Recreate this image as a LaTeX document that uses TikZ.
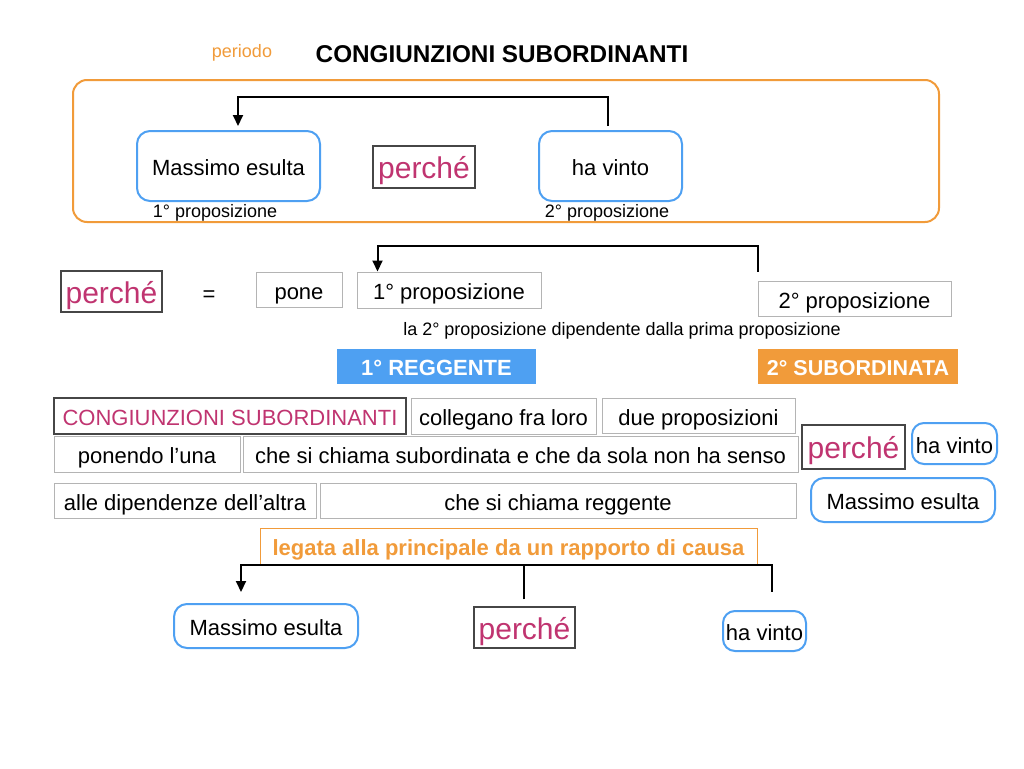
\documentclass[tikz,border=0pt]{standalone}
\usepackage{fontspec}
\setmainfont{Liberation Sans}
\usetikzlibrary{arrows.meta}
\definecolor{orng}{RGB}{241,155,58}
\definecolor{blu}{RGB}{78,160,242}
\definecolor{mag}{RGB}{192,52,112}
\definecolor{gline}{RGB}{180,180,180}
\definecolor{dline}{RGB}{70,70,70}
\newcommand{\fsz}[1]{\fontsize{#1}{#1}\selectfont}
\begin{document}
\begin{tikzpicture}[x=1pt,y=-1pt,
  t22/.style={font=\fsz{22}, text height=19pt, text depth=0pt},
  t30/.style={font=\fsz{30}, text height=23.5pt, text depth=0pt},
  tb/.style={font=\bfseries\fsz{22}, text height=18.5pt, text depth=0pt},
  gbox/.style={draw=gline, line width=1pt, inner sep=0pt, t22},
  dbox/.style={draw=dline, line width=1.1pt, inner sep=0pt, text=mag, t30},
  rbox/.style={draw=blu, line width=2pt, rounded corners=13pt, inner sep=0pt, t22},
  arr/.style={line width=2pt, -{Triangle[length=11pt,width=10pt]}},
  ln/.style={line width=2pt},
  lab/.style={inner sep=0pt, font=\fsz{18}, text height=12.9pt, text depth=0pt}
]
\useasboundingbox (0,0) rectangle (1024,768);
\fill[white] (0,0) rectangle (1024,768);

% header
\node[lab, text=orng] (per) at (242,51) {periodo};
\node[inner sep=0pt, font=\bfseries\fsz{24.3}] (title) at (502,54) {CONGIUNZIONI SUBORDINANTI};

% frame
\node[draw=orng, line width=2pt, rounded corners=14pt, minimum width=866pt, minimum height=142pt] (frame) at (506,151) {};
\node[rbox, minimum width=183pt, minimum height=70pt] (m1) at (228.5,166) {Massimo esulta};
\node[dbox, minimum width=102pt, minimum height=42pt] (p1) at (424,167) {perché};
\node[rbox, minimum width=143pt, minimum height=70pt] (h1) at (610.5,166) {ha vinto};
\node[lab] (l1) at (215,211) {1° proposizione};
\node[lab] (l2) at (607,211) {2° proposizione};
\draw[arr] ([xshift=-2.5pt,yshift=4pt]h1.north) -- ++(0,-29) -| ([xshift=9.5pt,yshift=4pt]m1.north);

% definition row
\node[dbox, minimum width=101pt, minimum height=41pt] (p2) at (111.5,291.5) {perché};
\node[inner sep=0pt, t22] (eq) at (209,292) {=};
\node[gbox, minimum width=86pt, minimum height=35pt] (pone) at (299,290) {pone};
\node[gbox, minimum width=184pt, minimum height=36pt] (prop1) at (449,290) {1° proposizione};
\node[gbox, minimum width=193pt, minimum height=35pt] (prop2) at (854.5,298.5) {2° proposizione};
\draw[arr] ([yshift=9pt]prop2.north west) -- ++(0,-26) -| ([xshift=21pt]prop1.north west);
\node[lab] (dip) at (622,329) {la 2° proposizione dipendente dalla prima proposizione};
\node[fill=blu, text=white, inner sep=0pt, tb, minimum width=199pt, minimum height=35pt] (reg) at (436.5,366.5) {1° REGGENTE};
\node[fill=orng, text=white, inner sep=0pt, tb, font=\bfseries\fsz{21.5}, minimum width=200pt, minimum height=35pt] (sub) at (858,366.5) {2° SUBORDINATA};

% sentence rows
\node[dbox, t22, minimum width=352pt, minimum height=36pt] (cs) at (230,416) {CONGIUNZIONI SUBORDINANTI};
\node[gbox, minimum width=185pt, minimum height=36pt] (col) at (503.5,416) {collegano fra loro};
\node[gbox, minimum width=193pt, minimum height=35pt] (due) at (698.5,416) {due proposizioni};
\node[gbox, minimum width=186pt, minimum height=36pt] (pon) at (147,454) {ponendo l’una};
\node[gbox, minimum width=555pt, minimum height=36pt] (che) at (520.5,454) {che si chiama subordinata e che da sola non ha senso};
\node[dbox, minimum width=103pt, minimum height=44pt] (p3) at (853.5,447) {perché};
\node[rbox, rounded corners=12pt, minimum width=85pt, minimum height=41pt] (h3) at (954.5,443.5) {ha vinto};
\node[gbox, minimum width=262pt, minimum height=35pt] (alle) at (185,500.5) {alle dipendenze dell’altra};
\node[gbox, minimum width=476pt, minimum height=35pt] (reg2) at (558,500.5) {che si chiama reggente};
\node[rbox, minimum width=184pt, minimum height=44pt] (m3) at (903,500) {Massimo esulta};

% cause
\node[draw=orng, line width=1pt, text=orng, inner sep=0pt, tb, minimum width=497pt, minimum height=36pt] (leg) at (508.5,546) {legata alla principale da un rapporto di causa};
\node[rbox, minimum width=184pt, minimum height=44pt] (m4) at (266,626) {Massimo esulta};
\node[dbox, minimum width=101pt, minimum height=41pt] (p4) at (524.5,627.5) {perché};
\node[rbox, rounded corners=12pt, minimum width=83pt, minimum height=40pt] (h4) at (764.5,631) {ha vinto};
\draw[arr] ([xshift=-0.5pt,yshift=7pt]p4.north) -- ++(0,-34) coordinate (mj) -| ([xshift=-25pt,yshift=11pt]m4.north);
\draw[ln] (mj) -| ([xshift=7.5pt,yshift=18pt]h4.north);
\end{tikzpicture}
\end{document}
